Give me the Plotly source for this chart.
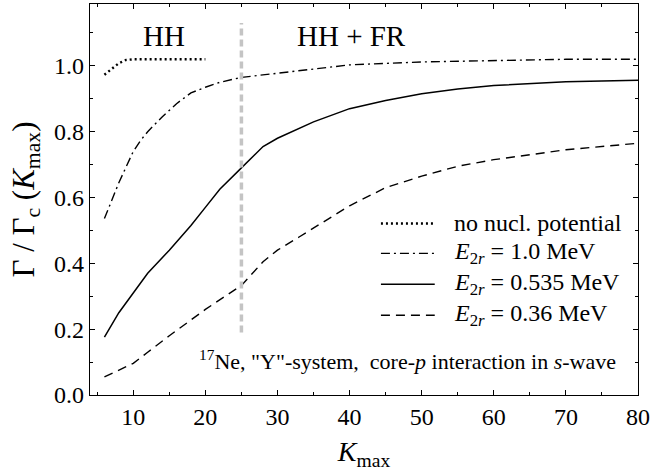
import plotly.graph_objects as go

# K_max grid and normalised widths Gamma/Gamma_c for each calculation
k_free = [6, 7, 8, 9, 10, 12, 14, 16, 18, 20]
g_free = [0.973, 0.99, 1.008, 1.018, 1.02, 1.02, 1.02, 1.02, 1.02, 1.02]

k_e10 = [6, 7, 8, 10, 11, 12, 14, 16, 18, 20, 22, 25, 30, 35, 40, 50, 60, 70, 80]
g_e10 = [0.536, 0.59, 0.645, 0.74, 0.773, 0.80, 0.845, 0.885, 0.918, 0.935,
         0.95, 0.965, 0.978, 0.99, 1.003, 1.012, 1.017, 1.02, 1.02]

k_e0535 = [6, 8, 10, 12, 15, 18, 20, 22, 25, 28, 30, 35, 40, 45, 50, 55, 60, 70, 80]
g_e0535 = [0.176, 0.25, 0.31, 0.37, 0.44, 0.515, 0.57, 0.625, 0.69, 0.755,
           0.78, 0.83, 0.87, 0.895, 0.915, 0.93, 0.94, 0.952, 0.956]

k_e036 = [6, 8, 10, 12, 15, 20, 25, 28, 30, 33, 40, 45, 50, 55, 60, 70, 80]
g_e036 = [0.055, 0.075, 0.096, 0.13, 0.18, 0.26, 0.333, 0.405, 0.44, 0.48,
          0.575, 0.63, 0.665, 0.695, 0.715, 0.745, 0.765]

legend_labels = ["no nucl. potential",
                 "<i>E</i><sub>2<i>r</i></sub> = 1.0 MeV",
                 "<i>E</i><sub>2<i>r</i></sub> = 0.535 MeV",
                 "<i>E</i><sub>2<i>r</i></sub> = 0.36 MeV"]

k_boundary = 25
x_ticks = [10, 20, 30, 40, 50, 60, 70, 80]
y_ticks = [0.0, 0.2, 0.4, 0.6, 0.8, 1.0]

FONT = "Liberation Serif, Times New Roman, DejaVu Serif, serif"
W, H = 653, 471
ML, MR, MT, MB = 90, 13, 3, 76
PW, PH = W - ML - MR, H - MT - MB

styles = [
    dict(color="black", width=2.4, dash="2px,3px"),
    dict(color="black", width=1.4, dash="9px,4px,2px,4px"),
    dict(color="black", width=1.5, dash="solid"),
    dict(color="black", width=1.4, dash="9px,6px"),
]

def px_x(p):
    return (p - ML) / PW

def px_y(p):
    return (H - MB - p) / PH

def label(x, y, text, size, xanchor="center"):
    return dict(xref="paper", yref="paper", x=px_x(x), y=px_y(y), text=text,
                showarrow=False, xanchor=xanchor, yanchor="middle",
                font=dict(family=FONT, size=size, color="black"))

fig = go.Figure()
for k, g, st in zip([k_free, k_e10, k_e0535, k_e036],
                    [g_free, g_e10, g_e0535, g_e036], styles):
    fig.add_trace(go.Scatter(x=k, y=g, mode="lines", line=st,
                             showlegend=False, hoverinfo="skip"))

# boundary between pure HH and HH + FR regimes
fig.add_trace(go.Scatter(x=[k_boundary, k_boundary], y=[0.19, 1.13], mode="lines",
                         line=dict(color="#c4c4c4", width=3.5, dash="7px,4px"),
                         showlegend=False, hoverinfo="skip"))

# hand-built legend: key lines + labels
rows = [223, 253, 284, 315]
shapes = []
annotations = []
for r, st, lab in zip(rows, styles, legend_labels):
    shapes.append(dict(type="line", xref="paper", yref="paper",
                       x0=px_x(382), x1=px_x(436), y0=px_y(r), y1=px_y(r),
                       line=st))
    annotations.append(label(453, r, lab, 24, xanchor="left"))

annotations += [
    label(164, 35, "HH", 29),
    label(352, 35, "HH + FR", 29),
    label(620, 360,
          "<sup>17</sup>Ne, \"Y\"-system,  core-<i>p</i> interaction in <i>s</i>-wave",
          22, xanchor="right"),
]

axis_common = dict(showline=True, linecolor="black", linewidth=1.3, mirror="allticks",
                   ticks="inside", ticklen=5, tickwidth=1.2, tickcolor="black",
                   showgrid=False, zeroline=False,
                   tickfont=dict(family=FONT, size=24, color="black"))

fig.update_layout(
    width=W, height=H,
    margin=dict(l=ML, r=MR, t=MT, b=MB),
    paper_bgcolor="white", plot_bgcolor="white",
    shapes=shapes, annotations=annotations,
    xaxis=dict(range=[4, 80], tickvals=x_ticks,
               minor=dict(tickvals=[5, 15, 25, 35, 45, 55, 65, 75], ticks="inside",
                          ticklen=3, tickwidth=1, tickcolor="black"),
               title=dict(text="<i>K</i><sub>max</sub>", standoff=14,
                          font=dict(family=FONT, size=28, color="black")),
               **axis_common),
    yaxis=dict(range=[0, 1.188], tickvals=y_ticks, tickformat=".1f",
               minor=dict(tickvals=[0.1, 0.3, 0.5, 0.7, 0.9, 1.1], ticks="inside",
                          ticklen=3, tickwidth=1, tickcolor="black"),
               title=dict(text="Γ / Γ<sub>c</sub> (<i>K</i><sub>max</sub>)", standoff=10,
                          font=dict(family=FONT, size=31, color="black")),
               **axis_common),
)

fig.write_html("out.html")
